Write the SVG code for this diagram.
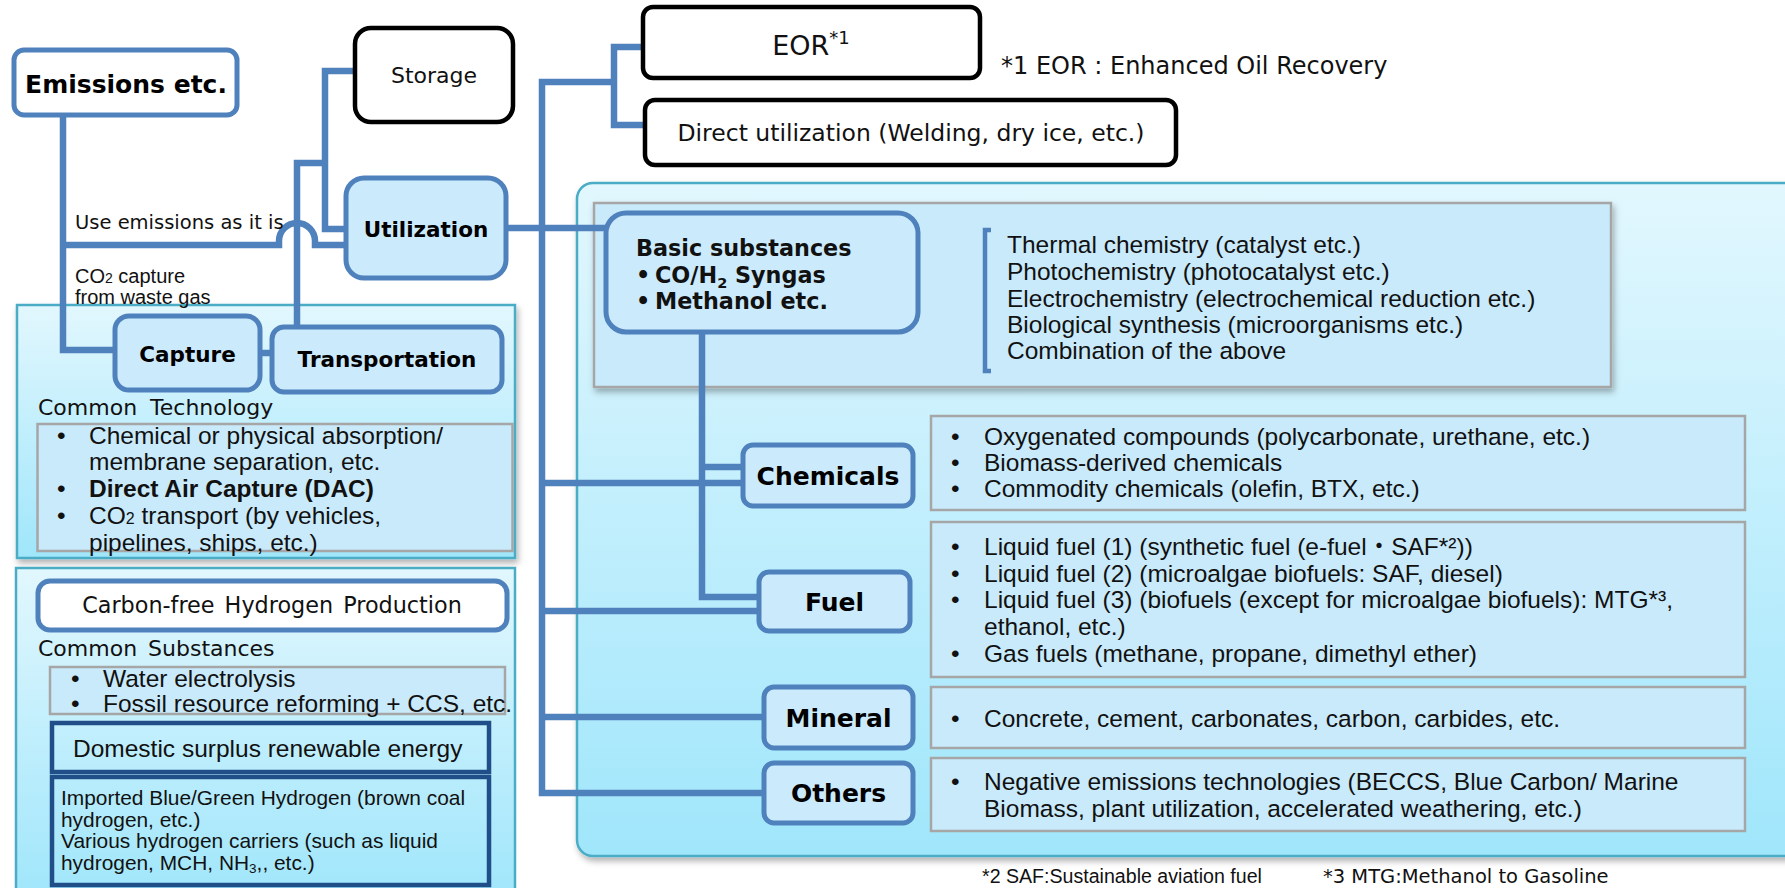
<svg xmlns="http://www.w3.org/2000/svg" width="1785" height="888" viewBox="0 0 1785 888">
<defs>
  <linearGradient id="pg" x1="0" y1="0" x2="0" y2="1">
    <stop offset="0" stop-color="#e2f7fe"/>
    <stop offset="1" stop-color="#a0e6fb"/>
  </linearGradient>
  <filter id="sh" x="-5%" y="-5%" width="110%" height="115%">
    <feDropShadow dx="2" dy="4" stdDeviation="3" flood-color="#000" flood-opacity="0.3"/>
  </filter>
  <style>
    .conn{fill:none;stroke:#4f81bd;stroke-width:6.5;stroke-linejoin:miter}
    .node{fill:#cbeafc;stroke:#4f81bd;stroke-width:5}
    .wnode{fill:#fff;stroke:#4f81bd;stroke-width:5}
    .bnode{fill:#fff;stroke:#000;stroke-width:4.5}
    .panel{fill:url(#pg);stroke:#4bacc6;stroke-width:2.5}
    .gbox{fill:#c9eafb;stroke:#a6a6a6;stroke-width:2.5}
    .dbox{fill:none;stroke:#1f4e89;stroke-width:4.5}
    .lbl{font-family:"DejaVu Sans",Verdana,sans-serif;font-weight:bold;text-anchor:middle;fill:#000}
    .v{font-family:"DejaVu Sans",Verdana,sans-serif;fill:#111}
    .m{font-family:"Liberation Sans",Arial,"Noto Sans CJK JP",sans-serif;fill:#111}
  </style>
</defs>
<rect width="1785" height="888" fill="#fff"/>

<!-- panels -->
<g id="panel-utilization">
  <rect class="panel" x="577" y="183" width="1240" height="673" rx="16" filter="url(#sh)"/>
  <rect class="gbox" x="594" y="203" width="1017" height="184" filter="url(#sh)"/>
  <rect class="gbox" x="931" y="416" width="814" height="94"/>
  <rect class="gbox" x="931" y="522" width="814" height="155"/>
  <rect class="gbox" x="931" y="687" width="814" height="61"/>
  <rect class="gbox" x="931" y="758" width="814" height="73"/>
</g>
<g id="panel-capture">
  <rect class="panel" x="17" y="305" width="498" height="253" filter="url(#sh)"/>
  <rect class="gbox" x="37.5" y="424" width="475" height="127"/>
</g>
<g id="panel-hydrogen">
  <rect class="panel" x="16" y="568" width="499" height="330"/>
  <rect class="gbox" x="50" y="667" width="455" height="47"/>
</g>

<!-- connectors -->
<g id="connectors">
  <path class="conn" d="M63,115 V350 H115"/>
  <path class="conn" d="M63,245 H279 V241 A18,18 0 0 1 315,241 V245 H346"/>
  <path class="conn" d="M260,353 H272"/>
  <path class="conn" d="M297,327 V163 H325"/>
  <path class="conn" d="M355,71 H325 V229 H346"/>
  <path class="conn" d="M506,228 H606"/>
  <path class="conn" d="M614,82 H542 V793 H764"/>
  <path class="conn" d="M643,47 H614 V125 H645"/>
  <path class="conn" d="M542,483 H743"/>
  <path class="conn" d="M542,611 H759"/>
  <path class="conn" d="M542,717 H764"/>
  <path class="conn" d="M702,332 V597 H759"/>
  <path class="conn" d="M702,467 H743"/>
  <path d="M991,230 H985 V371 H991" fill="none" stroke="#4f81bd" stroke-width="4.5"/>
</g>

<!-- nodes -->
<g id="emissions">
  <rect class="wnode" x="14" y="50" width="223" height="65" rx="10"/>
  <text class="lbl" x="126" y="93" font-size="25">Emissions etc.</text>
</g>
<g id="storage">
  <rect class="bnode" x="355" y="28" width="158" height="94" rx="16"/>
  <text class="v" x="434" y="83" font-size="22" text-anchor="middle">Storage</text>
</g>
<g id="utilization">
  <rect class="node" x="346" y="178" width="160" height="100" rx="18"/>
  <text class="lbl" x="426" y="237" font-size="21.5">Utilization</text>
</g>
<g id="capture">
  <rect class="node" x="115" y="316" width="145" height="74" rx="14"/>
  <text class="lbl" x="187.5" y="362" font-size="21.5">Capture</text>
</g>
<g id="transportation">
  <rect class="node" x="272" y="327" width="230" height="65" rx="12"/>
  <text class="lbl" x="387" y="367" font-size="21.5">Transportation</text>
</g>
<g id="eor">
  <rect class="bnode" x="643" y="7" width="337" height="71" rx="10"/>
  <text class="v" x="811" y="55" font-size="27" text-anchor="middle">EOR<tspan font-size="18" dy="-11">*1</tspan></text>
</g>
<g id="direct">
  <rect class="bnode" x="645" y="100" width="531" height="65" rx="10"/>
  <text class="v" x="911" y="141" font-size="23.5" text-anchor="middle">Direct utilization (Welding, dry ice, etc.)</text>
</g>
<g id="basic">
  <rect class="node" x="606" y="213" width="312" height="119" rx="20"/>
  <text class="v" font-weight="bold" font-size="22.3" x="636" y="256">Basic substances</text>
  <text class="v" font-weight="bold" font-size="22.3" x="636" y="283">•</text>
  <text class="v" font-weight="bold" font-size="22.3" x="655" y="283">CO/H<tspan font-size="14.5" dy="5">2</tspan><tspan dy="-5"> Syngas</tspan></text>
  <text class="v" font-weight="bold" font-size="22.3" x="636" y="309">•</text>
  <text class="v" font-weight="bold" font-size="22.3" x="655" y="309">Methanol etc.</text>
</g>
<g id="chemicals">
  <rect class="node" x="743" y="445" width="170" height="61" rx="10"/>
  <text class="lbl" x="828" y="485" font-size="25">Chemicals</text>
</g>
<g id="fuel">
  <rect class="node" x="759" y="572" width="151" height="59" rx="10"/>
  <text class="lbl" x="834.5" y="611" font-size="25">Fuel</text>
</g>
<g id="mineral">
  <rect class="node" x="764" y="687" width="149" height="61" rx="10"/>
  <text class="lbl" x="838.5" y="727" font-size="25">Mineral</text>
</g>
<g id="others">
  <rect class="node" x="764" y="763" width="149" height="60" rx="10"/>
  <text class="lbl" x="838.5" y="802" font-size="25">Others</text>
</g>
<g id="carbon-free">
  <rect class="wnode" x="38" y="581" width="469" height="49" rx="12"/>
  <text class="v" x="272" y="613" font-size="22.3" text-anchor="middle" word-spacing="3">Carbon-free Hydrogen Production</text>
</g>
<g id="domestic">
  <rect class="dbox" x="52" y="723" width="437" height="49"/>
  <text class="m" x="73" y="757" font-size="24.5">Domestic surplus renewable energy</text>
</g>
<g id="imported">
  <rect class="dbox" x="52" y="777" width="437" height="108"/>
  <text class="m" font-size="20.9" x="61" y="805">Imported Blue/Green Hydrogen (brown coal</text>
  <text class="m" font-size="20.9" x="61" y="827">hydrogen, etc.)</text>
  <text class="m" font-size="20.9" x="61" y="848">Various hydrogen carriers (such as liquid</text>
  <text class="m" font-size="20.9" x="61" y="870">hydrogen, MCH, NH<tspan font-size="13.5" dy="3">3</tspan><tspan dy="-3">,, etc.)</tspan></text>
</g>

<!-- free texts -->
<g id="labels">
  <text class="v" x="75" y="229" font-size="19.5">Use emissions as it is</text>
  <text class="m" x="75" y="283" font-size="20">CO<tspan font-size="14">2</tspan> capture</text>
  <text class="m" x="75" y="304" font-size="20">from waste gas</text>
  <text class="v" x="38" y="415" font-size="22" word-spacing="6">Common Technology</text>
  <text class="v" x="38" y="656" font-size="22" word-spacing="4">Common Substances</text>
  <text class="v" x="1001" y="74" font-size="24">*1 EOR : Enhanced Oil Recovery</text>
  <text class="m" x="982" y="883" font-size="19.6">*2 SAF:Sustainable aviation fuel</text>
  <text class="v" x="1323" y="883" font-size="19.5">*3 MTG:Methanol to Gasoline</text>
</g>

<g id="capture-list" class="m" font-size="24.5">
  <text x="57" y="444">•</text><text x="89" y="444">Chemical or physical absorption/</text>
  <text x="89" y="470">membrane separation, etc.</text>
  <text x="57" y="497">•</text><text x="89" y="497" font-weight="bold">Direct Air Capture (DAC)</text>
  <text x="57" y="524">•</text><text x="89" y="524">CO<tspan font-size="16">2</tspan> transport (by vehicles,</text>
  <text x="89" y="551">pipelines, ships, etc.)</text>
</g>
<g id="hydrogen-list" class="m" font-size="24.5">
  <text x="71" y="687">•</text><text x="103" y="687">Water electrolysis</text>
  <text x="71" y="712">•</text><text x="103" y="712">Fossil resource reforming + CCS, etc.</text>
</g>
<g id="process-list" class="m" font-size="24.5">
  <text x="1007" y="253">Thermal chemistry (catalyst etc.)</text>
  <text x="1007" y="280">Photochemistry (photocatalyst etc.)</text>
  <text x="1007" y="307">Electrochemistry (electrochemical reduction etc.)</text>
  <text x="1007" y="333">Biological synthesis (microorganisms etc.)</text>
  <text x="1007" y="359">Combination of the above</text>
</g>
<g id="chemicals-list" class="m" font-size="24.5">
  <text x="951" y="445">•</text><text x="984" y="445">Oxygenated compounds (polycarbonate, urethane, etc.)</text>
  <text x="951" y="471">•</text><text x="984" y="471">Biomass-derived chemicals</text>
  <text x="951" y="497">•</text><text x="984" y="497">Commodity chemicals (olefin, BTX, etc.)</text>
</g>
<g id="fuel-list" class="m" font-size="24.5">
  <text x="951" y="555">•</text><text x="984" y="555">Liquid fuel (1) (synthetic fuel (e-fuel・SAF*²))</text>
  <text x="951" y="582">•</text><text x="984" y="582">Liquid fuel (2) (microalgae biofuels: SAF, diesel)</text>
  <text x="951" y="608">•</text><text x="984" y="608">Liquid fuel (3) (biofuels (except for microalgae biofuels): MTG*³,</text>
  <text x="984" y="635">ethanol, etc.)</text>
  <text x="951" y="662">•</text><text x="984" y="662">Gas fuels (methane, propane, dimethyl ether)</text>
</g>
<g id="mineral-list" class="m" font-size="24.5">
  <text x="951" y="727">•</text><text x="984" y="727">Concrete, cement, carbonates, carbon, carbides, etc.</text>
</g>
<g id="others-list" class="m" font-size="24.5">
  <text x="951" y="790">•</text><text x="984" y="790">Negative emissions technologies (BECCS, Blue Carbon/ Marine</text>
  <text x="984" y="817">Biomass, plant utilization, accelerated weathering, etc.)</text>
</g>
</svg>
